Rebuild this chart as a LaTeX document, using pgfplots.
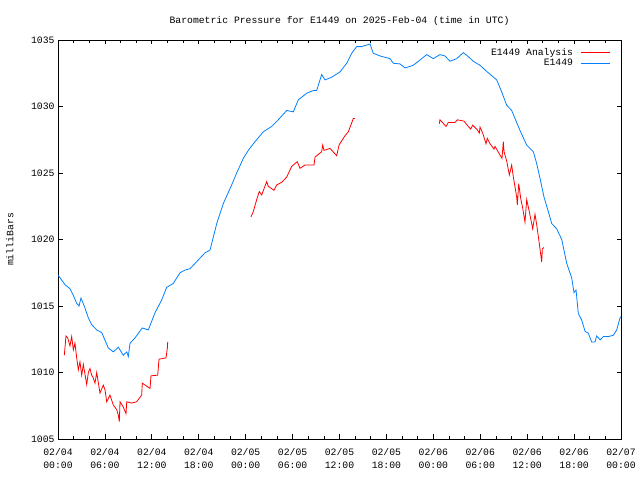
\documentclass[border=0pt]{standalone}
\usepackage{pgfplots}
\pgfplotsset{compat=1.18}
\usepackage{fontspec}
\setmainfont{Liberation Mono}
\definecolor{gpred}{RGB}{255,0,0}
\definecolor{gpblue}{RGB}{0,128,255}
\pgfplotstableread{
h v
0.81 1011.3
1.02 1012.75
1.24 1012.6
1.53 1012.0
1.75 1012.7
1.96 1011.7
2.17 1012.2
2.39 1011.1
2.60 1010.2
2.81 1010.8
3.03 1009.8
3.24 1010.6
3.67 1009.1
3.88 1010.0
4.09 1010.3
4.31 1009.8
4.51 1009.6
4.73 1009.2
4.95 1010.0
5.37 1008.45
5.79 1009.05
6.01 1008.7
6.23 1007.8
6.65 1008.3
7.07 1007.55
7.51 1007.2
7.71 1006.8
7.84 1006.3
7.93 1007.8
8.35 1007.4
8.70 1006.9
8.79 1007.8
9.43 1007.7
10.06 1007.8
10.70 1008.3
10.78 1009.2
11.77 1008.8
11.89 1009.75
12.75 1009.8
12.92 1011.0
13.81 1011.1
13.98 1011.8
14.03 1012.3
14.1 nan
24.68 1021.7
24.98 1022.1
25.41 1023.0
25.74 1023.6
26.05 1023.35
26.69 1024.35
26.89 1024.0
27.62 1023.7
27.97 1024.1
28.61 1024.3
29.25 1024.7
29.89 1025.5
30.60 1025.85
30.95 1025.35
31.59 1025.6
32.74 1025.6
32.87 1026.2
33.72 1026.6
33.85 1027.1
34.02 1026.7
34.79 1026.85
35.64 1026.3
35.94 1027.1
36.70 1027.8
37.13 1028.1
37.77 1029.1
37.98 1029.1
38.1 nan
48.76 1028.7
48.85 1029.0
49.62 1028.5
49.91 1028.8
50.77 1028.8
51.07 1029.0
51.92 1028.9
52.47 1028.5
52.78 1028.3
53.03 1028.6
53.62 1028.25
53.88 1028.0
53.97 1028.45
54.31 1028.0
54.74 1027.2
54.90 1027.6
55.25 1027.2
55.76 1026.8
55.89 1027.0
56.53 1026.35
56.78 1026.1
56.95 1027.35
57.04 1026.6
57.38 1025.9
57.72 1024.85
58.02 1025.6
58.23 1024.7
58.66 1023.2
58.74 1022.6
58.92 1024.2
59.17 1023.1
59.43 1022.35
59.72 1021.3
59.94 1023.0
60.27 1022.1
60.71 1020.8
61.00 1021.9
61.22 1021.1
61.55 1019.7
61.86 1018.3
61.94 1019.3
62.15 1019.4
}\analysis
\pgfplotstableread{
h v
0.00 1017.33
0.90 1016.6
1.53 1016.3
1.96 1015.8
2.39 1015.2
2.69 1015.0
2.94 1015.6
3.45 1014.85
3.88 1014.1
4.31 1013.6
4.95 1013.2
5.59 1013.0
6.43 1011.85
7.07 1011.55
7.71 1011.9
8.35 1011.3
8.79 1011.55
8.99 1011.2
9.21 1012.2
9.85 1012.6
10.78 1013.35
11.55 1013.2
12.41 1014.5
13.26 1015.45
13.90 1016.4
14.75 1016.7
15.60 1017.5
16.24 1017.7
16.88 1017.8
18.16 1018.6
18.80 1019.0
19.44 1019.2
20.30 1021.2
21.14 1022.7
22.21 1024.1
22.85 1025.0
23.70 1026.1
24.34 1026.7
24.98 1027.2
26.26 1028.1
27.33 1028.5
28.17 1029.0
29.25 1029.7
30.09 1029.6
30.73 1030.5
31.81 1031.0
32.65 1031.2
33.08 1031.2
33.72 1032.4
34.15 1032.0
35.00 1032.2
36.06 1032.6
36.92 1033.25
37.56 1034.0
38.20 1034.5
38.84 1034.5
39.90 1034.7
40.32 1034.0
41.18 1033.8
42.46 1033.6
42.88 1033.25
43.74 1033.2
44.38 1032.9
45.44 1033.1
46.30 1033.5
47.15 1033.9
48.00 1033.6
48.85 1033.9
49.49 1033.8
50.13 1033.4
50.99 1033.6
51.83 1034.05
52.47 1033.75
53.11 1033.4
53.97 1033.1
54.90 1032.6
56.10 1032.0
56.74 1031.1
57.38 1030.1
58.02 1029.7
58.44 1029.1
59.08 1028.2
59.94 1027.1
60.79 1026.6
61.22 1025.7
61.64 1024.6
62.15 1023.2
62.70 1022.1
63.14 1021.2
63.78 1020.8
64.42 1020.0
65.06 1018.2
65.70 1017.1
65.99 1016.0
66.25 1016.2
66.54 1014.45
66.97 1013.95
67.40 1013.1
67.82 1012.95
68.25 1012.3
68.68 1012.3
68.89 1012.75
69.32 1012.45
69.74 1012.7
70.38 1012.7
71.02 1012.8
71.45 1013.2
71.87 1014.1
72.00 1014.2
}\station
\begin{document}
\fontsize{9.8}{14}\selectfont
\begin{tikzpicture}[x=1bp,y=1bp]
\path[use as bounding box] (0,0) rectangle (640,480);
\begin{axis}[
  at={(58bp,41bp)}, anchor=south west,
  width=563bp, height=399bp, scale only axis,
  xmin=0, xmax=72, ymin=1005, ymax=1035,
  xtick={0,6,...,72}, minor x tick num=2,
  xticklabels={02/04\\00:00,02/04\\06:00,02/04\\12:00,02/04\\18:00,02/05\\00:00,02/05\\06:00,02/05\\12:00,02/05\\18:00,02/06\\00:00,02/06\\06:00,02/06\\12:00,02/06\\18:00,02/07\\00:00},
  xticklabel style={align=center, yshift=-6bp, font=\fontsize{9.8}{13.5}\selectfont},
  ytick={1005,1010,...,1035},
  yticklabel style={/pgf/number format/1000 sep={}},
  /pgf/number format/assume math mode=true,
  tick align=inside, tick pos=both,
  major tick length=4.5bp, minor tick length=3bp,
  every tick/.style={black, line width=0.7bp},
  axis line style={line width=0.8bp},
  ylabel={milliBars},
  ylabel style={at={(axis description cs:-0.0853,0.5)}, anchor=center},
  title={Barometric Pressure for E1449 on 2025-Feb-04 (time in UTC)},
  title style={at={(axis description cs:0.5,1)}, anchor=base, yshift=11bp},
  legend style={draw=none, fill=none, at={(axis description cs:0.9805,0.99)}, xshift=4bp, anchor=north east, row sep=-1.5bp, font=\fontsize{9.8}{12}\selectfont},
  legend plot pos=right, legend cell align=right,
  legend image code/.code={\path (0bp,0bp); \draw[#1] (6bp,0bp) -- (35bp,0bp);},
  unbounded coords=jump,
]
\addplot[gpred, line width=0.8bp] table[x=h,y=v] {\analysis};
\addlegendentry{E1449 Analysis}
\addplot[gpblue, line width=0.8bp] table[x=h,y=v] {\station};
\addlegendentry{E1449}
\end{axis}
\end{tikzpicture}
\end{document}
